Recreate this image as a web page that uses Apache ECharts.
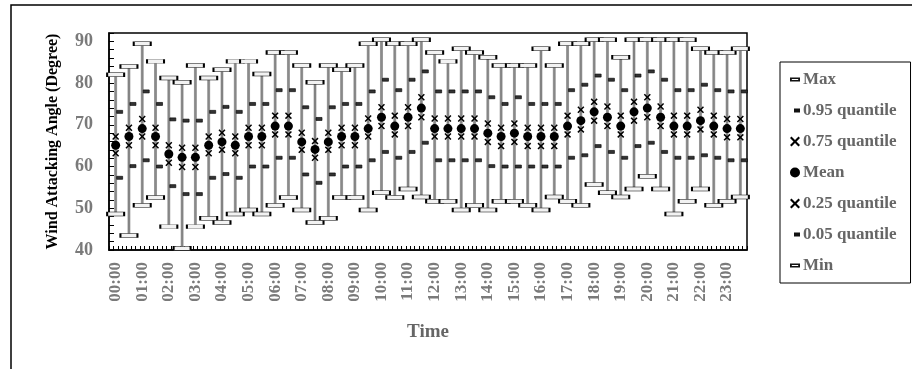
<!DOCTYPE html>
<html>
<head>
<meta charset="utf-8">
<title>Wind Attacking Angle</title>
<script src="https://cdn.jsdelivr.net/npm/echarts@6/dist/echarts.min.js"></script>
<style>
  html, body { margin: 0; padding: 0; background: #fff; }
  #chart { width: 912px; height: 369px; }
</style>
</head>
<body>
<div id="chart"></div>
<script>
// half-hour slots, labels shown every hour
const times = [];
for (let h = 0; h < 24; h++) {
  const hh = (h < 10 ? "0" : "") + h;
  times.push(hh + ":00", hh + ":30");
}

const maxVals = [82, 84, 89.4, 85.2, 81.2, 80.2, 84.2, 81.2, 83.2, 85.2, 85.2, 82.2,
  87.3, 87.3, 84.2, 80.2, 84.2, 83.2, 84.2, 89.4, 90.4, 89.4, 89.4, 90.4,
  87.3, 85.2, 88.2, 87.3, 86.2, 84.2, 84.2, 84.2, 88.2, 84.2, 89.4, 89.4,
  90.4, 90.4, 86.2, 90.4, 90.4, 90.4, 90.4, 90.4, 88.2, 87.3, 87.3, 88.2];
const q95 = [73.1, 75, 78, 75, 71.3, 71, 71, 73.1, 74.3, 73.1, 75, 75,
  78.3, 78.3, 74.2, 71.4, 74.2, 75, 75, 78, 80.8, 78.3, 80.8, 82.8,
  78, 78, 78, 78, 76.6, 75, 76.6, 75, 75, 75, 78.3, 79.6,
  81.8, 80.8, 78.3, 81.8, 82.8, 80.8, 78.3, 78.3, 79.6, 78.3, 78, 78];
const q75 = [67.2, 69.3, 71.4, 69.3, 65.1, 64.5, 64.5, 67.2, 68.1, 67.2, 69.3, 69.3,
  72.2, 72.2, 68.1, 66.1, 68.1, 69.3, 69.3, 71.5, 74.2, 72.2, 74.2, 76.6,
  71.5, 71.5, 71.5, 71.5, 70.3, 69.3, 70.3, 69.3, 69.3, 69.3, 72.2, 73.6,
  75.5, 74.4, 72.2, 75.5, 76.6, 74.4, 72.2, 72.2, 73.6, 72.2, 71.4, 71.4];
const meanVals = [65.1, 67.2, 69.1, 67.2, 63, 62.2, 62.2, 65.1, 65.9, 65.1, 67.2, 67.2,
  69.7, 69.7, 65.9, 64.1, 65.9, 67.2, 67.2, 69.1, 71.8, 69.7, 71.8, 74,
  69.1, 69.1, 69.1, 69.1, 68, 67.2, 68, 67.2, 67.2, 67.2, 69.7, 71,
  73.1, 71.8, 69.7, 73.1, 74, 71.8, 69.7, 69.7, 71, 69.7, 69.1, 69.1];
const q25 = [63.2, 65.1, 67.2, 65.1, 60.9, 59.9, 59.9, 63.2, 64, 63.2, 65.1, 65.1,
  67.7, 67.7, 64, 62.1, 64, 65.1, 65.1, 67.2, 69.7, 67.7, 69.7, 71.8,
  67.2, 67.2, 67.2, 67.2, 65.9, 64.9, 65.9, 64.9, 64.9, 64.9, 67.7, 68.9,
  71, 69.7, 67.7, 71, 71.8, 69.7, 67.7, 67.7, 68.9, 67.7, 67, 67];
const q05 = [57.3, 60.1, 61.5, 60, 55.3, 53.4, 53.4, 57.3, 58.2, 57.3, 60, 60,
  62.1, 62.1, 58.1, 56.1, 58.1, 60, 60, 61.5, 63.5, 62.1, 63.5, 65.7,
  61.5, 61.5, 61.5, 61.5, 60.1, 60, 60, 60, 60, 60, 62.1, 62.7,
  64.9, 63.5, 62.1, 64.9, 65.7, 63.5, 62.1, 62.1, 62.7, 62.1, 61.5, 61.5];
const minVals = [48.6, 43.5, 50.7, 52.6, 45.6, 40.4, 45.6, 47.6, 46.6, 48.6, 49.6, 48.6,
  50.7, 52.6, 49.6, 46.6, 47.6, 52.6, 52.6, 49.6, 53.7, 52.6, 54.6, 52.7,
  51.7, 51.7, 49.6, 50.7, 49.6, 51.7, 51.7, 50.7, 49.6, 52.7, 51.7, 50.7,
  55.7, 53.7, 52.7, 54.6, 57.7, 54.6, 48.6, 51.7, 54.6, 50.7, 51.7, 52.7];

const yTicks = { min: 40, max: 92, step: 2, labelStep: 10 };

const FONT = "Liberation Serif";
const GREY = "#7a7a7a";

const crossPath = "path://M0,1.5L1.5,0L5,3.5L8.5,0L10,1.5L6.5,5L10,8.5L8.5,10L5,6.5L1.5,10L0,8.5L3.5,5Z";
// legend icons: tiny corner dots keep a 10x10 box so the bars stay flat
const corner = "M0,0h0.01v0.01h-0.01z M10,10h-0.01v-0.01h0.01z ";
const barIcon = "path://" + corner + "M0,3h10v4h-10z M1.8,4.6v0.8h6.4v-0.8z";
const smallBarIcon = "path://" + corner + "M4,3h6v4h-6z";
const flat = { borderWidth: 0, color: "#111" };

const myChart = echarts.init(document.getElementById("chart"), null, { renderer: "canvas" });

function scatter(name, data, symbol, size, style, extra) {
  return Object.assign({
    name: name,
    type: "scatter",
    data: data,
    symbol: symbol,
    symbolSize: size,
    itemStyle: style,
    z: 3,
    silent: true,
  }, extra || {});
}

myChart.setOption({
  animation: false,
  textStyle: { fontFamily: FONT },
  grid: {
    left: 109, right: 165, top: 33, bottom: 119,
    show: true, borderColor: "#000", borderWidth: 1.5,
  },
  graphic: [
    {
      type: "rect",
      shape: { x: 11, y: 5, width: 930, height: 400 },
      style: { fill: null, stroke: "#000", lineWidth: 1.5 },
      silent: true,
    },
  ],
  legend: {
    orient: "vertical",
    left: 780, top: 62,
    padding: [9, 14, 9, 10],
    borderColor: "#000", borderWidth: 1,
    itemWidth: 10, itemHeight: 10, itemGap: 14,
    textStyle: { fontFamily: FONT, fontWeight: "bold", fontSize: 17, color: "#666", padding: [0, 0, 0, -2] },
    data: [
      { name: "Max", icon: barIcon, itemStyle: flat },
      { name: "0.95 quantile", icon: smallBarIcon, itemStyle: flat },
      { name: "0.75 quantile", icon: crossPath },
      { name: "Mean", icon: "circle" },
      { name: "0.25 quantile", icon: crossPath },
      { name: "0.05 quantile", icon: smallBarIcon, itemStyle: flat },
      { name: "Min", icon: barIcon, itemStyle: flat },
    ],
  },
  xAxis: [
    {
      type: "category",
      data: times,
      boundaryGap: true,
      name: "Time",
      nameLocation: "middle",
      nameGap: 73,
      nameTextStyle: { fontFamily: FONT, fontWeight: "bold", fontSize: 19, color: "#666" },
      axisLine: { lineStyle: { color: "#000", width: 1.5 } },
      axisTick: { show: false },
      axisLabel: {
        interval: 1, rotate: 90, margin: 12,
        fontFamily: FONT, fontWeight: "bold", fontSize: 17, color: GREY,
      },
      splitLine: { show: false },
    },
    {
      // finer tick marks along the bottom edge (three per half hour)
      type: "value",
      min: 0, max: times.length * 3, interval: 1,
      position: "bottom",
      axisLine: { show: false },
      axisTick: { show: true, inside: true, length: 4, lineStyle: { color: "#000", width: 1 } },
      axisLabel: { show: false },
      splitLine: { show: false },
    },
  ],
  yAxis: {
    type: "value",
    min: yTicks.min, max: yTicks.max, interval: yTicks.step,
    name: "Wind Attacking Angle (Degree)",
    nameLocation: "middle",
    nameGap: 48,
    nameTextStyle: { fontFamily: FONT, fontWeight: "bold", fontSize: 16, color: "#000" },
    axisLine: { show: true, lineStyle: { color: "#000", width: 1.5 } },
    axisTick: { show: true, inside: true, length: 5, lineStyle: { color: "#000", width: 1 } },
    axisLabel: {
      margin: 16,
      fontFamily: FONT, fontWeight: "bold", fontSize: 18, color: GREY,
      formatter: (v) => (v % yTicks.labelStep === 0 ? v : ""),
    },
    splitLine: { show: false },
  },
  series: [
    {
      // whisker from min to max
      type: "custom",
      name: "range",
      data: times.map((t, i) => [i, minVals[i], maxVals[i]]),
      encode: { x: 0, y: [1, 2] },
      silent: true,
      z: 1,
      renderItem: (params, api) => {
        const lo = api.coord([api.value(0), api.value(1)]);
        const hi = api.coord([api.value(0), api.value(2)]);
        return {
          type: "rect",
          shape: { x: lo[0] - 1, y: hi[1], width: 2, height: lo[1] - hi[1] },
          style: { fill: "#8c8c8c", stroke: "#666", lineWidth: 0.5 },
        };
      },
    },
    scatter("Max", maxVals, "rect", [17, 4], { color: "#f2f2f2", borderColor: "#000", borderWidth: 1, opacity: 1 }),
    scatter("0.95 quantile", q95, "rect", [6, 3], { color: "#333", borderColor: "#000", borderWidth: 0.6, opacity: 1 }, { symbolOffset: [4, 0] }),
    scatter("0.75 quantile", q75, crossPath, 7, { color: "#000", opacity: 1 }),
    scatter("Mean", meanVals, "circle", 9, { color: "#000", opacity: 1 }),
    scatter("0.25 quantile", q25, crossPath, 7, { color: "#000", opacity: 1 }),
    scatter("0.05 quantile", q05, "rect", [6, 3], { color: "#333", borderColor: "#000", borderWidth: 0.6, opacity: 1 }, { symbolOffset: [4, 0] }),
    scatter("Min", minVals, "rect", [17, 4], { color: "#f2f2f2", borderColor: "#000", borderWidth: 1, opacity: 1 }),
  ],
});
</script>
</body>
</html>
